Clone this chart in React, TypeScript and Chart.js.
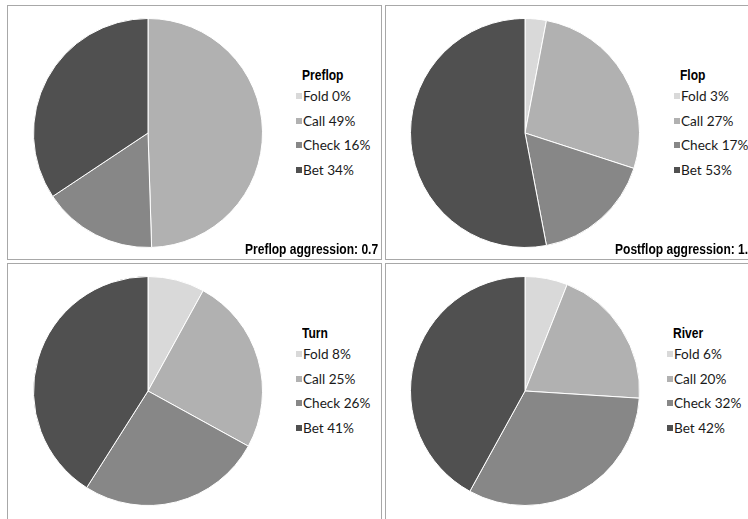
import React, { useEffect, useRef } from "react";
import { Chart, registerables } from "chart.js";

Chart.register(...registerables);

// ---- data ----
const actions = ["Fold", "Call", "Check", "Bet"];
const sliceColors = ["#d9d9d9", "#b1b1b1", "#878787", "#505050"];
const streets = ["Preflop", "Flop", "Turn", "River"];
const preflopValues = [0, 49, 16, 34];
const flopValues = [3, 27, 17, 53];
const turnValues = [8, 25, 26, 41];
const riverValues = [6, 20, 32, 42];
const aggressionLabels = ["Preflop aggression: 0.7", "Postflop aggression: 1.9"];

const streetValues = [preflopValues, flopValues, turnValues, riverValues];

// ---- layout ----
const PIE_SIZE = 230;
const pieCenters = [
  [148, 133],
  [525, 133],
  [148, 391],
  [525, 391],
];
const legendX = [296, 674, 296, 667];
const panels = [
  { left: 7, top: 5, width: 375, height: 255 },
  { left: 385, top: 5, width: 380, height: 255 },
  { left: 7, top: 263, width: 375, height: 270 },
  { left: 385, top: 263, width: 380, height: 270 },
];

const legendFont = "Lato, 'Open Sans', sans-serif";
const boldFont = "'Liberation Sans', Arial, sans-serif";
const NARROW = 0.86;

function Pie({ values, cx, cy }: { values: number[]; cx: number; cy: number }) {
  const ref = useRef<HTMLCanvasElement | null>(null);
  useEffect(() => {
    if (!ref.current) return;
    const chart = new Chart(ref.current, {
      type: "pie",
      data: {
        labels: actions,
        datasets: [
          {
            data: values,
            backgroundColor: sliceColors,
            borderColor: "#ffffff",
            borderWidth: 1,
          },
        ],
      },
      options: {
        responsive: false,
        animation: false,
        devicePixelRatio: 1,
        layout: { padding: 0 },
        plugins: {
          legend: { display: false },
          tooltip: { enabled: false },
        },
      },
    });
    return () => chart.destroy();
  }, [values]);
  return (
    <canvas
      ref={ref}
      width={PIE_SIZE}
      height={PIE_SIZE}
      style={{
        position: "absolute",
        left: cx - PIE_SIZE / 2,
        top: cy - PIE_SIZE / 2,
        width: PIE_SIZE,
        height: PIE_SIZE,
      }}
    />
  );
}

function NarrowBold({ text, left, top }: { text: string; left: number; top: number }) {
  return (
    <div
      style={{
        position: "absolute",
        left,
        top,
        font: `bold 14px ${boldFont}`,
        lineHeight: "16px",
        color: "#000",
        whiteSpace: "nowrap",
        transform: `scaleX(${NARROW})`,
        transformOrigin: "left center",
      }}
    >
      {text}
    </div>
  );
}

function Legend({ title, values, x, cy }: { title: string; values: number[]; x: number; cy: number }) {
  const titleTop = cy - 58 - 8;
  const firstRow = cy - 37;
  const rowGap = 24.7;
  return (
    <>
      <NarrowBold text={title} left={x + 6} top={titleTop} />
      {actions.map((a, i) => {
        const rowCy = firstRow + i * rowGap;
        return (
          <React.Fragment key={a}>
            <div
              style={{
                position: "absolute",
                left: x,
                top: rowCy - 3,
                width: 6,
                height: 6,
                background: sliceColors[i],
              }}
            />
            <div
              style={{
                position: "absolute",
                left: x + 7,
                top: rowCy - 9,
                font: `13.6px ${legendFont}`,
                lineHeight: "18px",
                color: "#1a1a1a",
                whiteSpace: "nowrap",
              }}
            >
              {`${a} ${values[i]}%`}
            </div>
          </React.Fragment>
        );
      })}
    </>
  );
}

export default function App() {
  return (
    <div
      style={{
        position: "fixed",
        left: 0,
        top: 0,
        width: 748,
        height: 519,
        overflow: "hidden",
        background: "#ffffff",
      }}
    >
      {panels.map((p, i) => (
        <div
          key={i}
          style={{
            position: "absolute",
            left: p.left,
            top: p.top,
            width: p.width,
            height: p.height,
            boxSizing: "border-box",
            border: "1px solid #a8a8a8",
          }}
        />
      ))}
      {streets.map((s, i) => (
        <React.Fragment key={s}>
          <Pie values={streetValues[i]} cx={pieCenters[i][0]} cy={pieCenters[i][1]} />
          <Legend title={s} values={streetValues[i]} x={legendX[i]} cy={pieCenters[i][1]} />
        </React.Fragment>
      ))}
      <NarrowBold text={aggressionLabels[0]} left={245} top={241} />
      <NarrowBold text={aggressionLabels[1]} left={615} top={241} />
    </div>
  );
}
